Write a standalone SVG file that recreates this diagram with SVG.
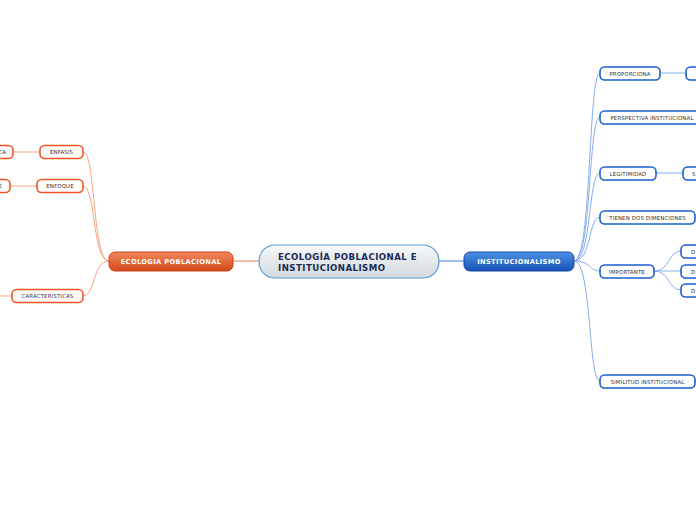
<svg xmlns="http://www.w3.org/2000/svg" width="696" height="520" viewBox="0 0 696 520">
<defs>
<linearGradient id="gc" x1="0" y1="0" x2="0" y2="1"><stop offset="0" stop-color="#f7f9fa"/><stop offset="1" stop-color="#d3d9de"/></linearGradient>
<linearGradient id="go" x1="0" y1="0" x2="0" y2="1"><stop offset="0" stop-color="#f2875a"/><stop offset="1" stop-color="#d2491c"/></linearGradient>
<linearGradient id="gb" x1="0" y1="0" x2="0" y2="1"><stop offset="0" stop-color="#4f92e4"/><stop offset="1" stop-color="#1652b8"/></linearGradient>
</defs>
<style>
.lo{fill:none;stroke:#f7a584;stroke-width:1}
.lb{fill:none;stroke:#86aef0;stroke-width:1}
.no{fill:#fff;stroke:#f05523;stroke-width:1.6}
.nb{fill:#fff;stroke:#1b5fd2;stroke-width:1.6}
.t{font-family:"DejaVu Sans",Verdana,sans-serif;font-size:5.4px;letter-spacing:0.15px;fill:#333;text-anchor:middle}
.tm{font-family:"DejaVu Sans",Verdana,sans-serif;font-size:6.7px;letter-spacing:0.35px;font-weight:bold;fill:#fff;text-anchor:middle}
.tc{font-family:"DejaVu Sans",Verdana,sans-serif;font-size:8.6px;letter-spacing:0.45px;font-weight:bold;fill:#1b2b55}
</style>
<rect width="696" height="520" fill="#fff"/>
<g id="connectors">
<line class="lo" x1="233" y1="261" x2="259" y2="261" style="stroke:#f07a50"/>
<line class="lb" x1="439" y1="261" x2="464" y2="261" style="stroke:#3f7fe0"/>
<path class="lo" d="M109,261 C92,261 96,152 83,152"/>
<path class="lo" d="M109,261 C92,261 96,186 83,186"/>
<path class="lo" d="M109,261 C92,261 96,296 83,296"/>
<line class="lo" x1="40" y1="152" x2="13" y2="152"/>
<line class="lo" x1="37" y1="186" x2="10" y2="186"/>
<line class="lo" x1="12" y1="296" x2="0" y2="296"/>
<path class="lb" d="M574,261 C592,261 588,73 600,73"/>
<path class="lb" d="M574,261 C592,261 588,117 600,117"/>
<path class="lb" d="M574,261 C592,261 588,173 600,173"/>
<path class="lb" d="M574,261 C592,261 588,217 600,217"/>
<path class="lb" d="M574,261 C592,261 588,271 600,271"/>
<path class="lb" d="M574,261 C592,261 588,381 600,381"/>
<line class="lb" x1="660" y1="73" x2="686" y2="73"/>
<line class="lb" x1="656" y1="173" x2="683" y2="173"/>
<path class="lb" d="M654,271 C670,271 668,251 681,251"/>
<line class="lb" x1="654" y1="271" x2="681" y2="271"/>
<path class="lb" d="M654,271 C670,271 668,290 681,290"/>
</g>
<g id="central"><rect x="259" y="245" width="180" height="33" rx="16" fill="url(#gc)" stroke="#5a9ad6" stroke-width="1.2"/>
<text class="tc" x="278" y="259.5">ECOLOGÍA POBLACIONAL E</text><text class="tc" x="278" y="270.5">INSTITUCIONALISMO</text></g>
<g id="ecologia"><rect x="109" y="252" width="124" height="19" rx="6" fill="url(#go)" stroke="#c8461c" stroke-width="1"/><text class="tm" x="171" y="263.8">ECOLOGIA POBLACIONAL</text></g>
<g id="institucionalismo"><rect x="464" y="252" width="110" height="19" rx="6" fill="url(#gb)" stroke="#1448a8" stroke-width="1"/><text class="tm" x="519" y="263.8">INSTITUCIONALISMO</text></g>
<g id="enfasis"><rect class="no" x="40" y="145.5" width="43" height="13" rx="4.5"/><text class="t" x="61.5" y="154">ÉNFASIS</text></g>
<g id="enfasis-leaf"><rect class="no" x="-40" y="145.5" width="53" height="13" rx="4.5"/><text class="t" x="6" y="154" style="text-anchor:end">CA</text></g>
<g id="enfoque"><rect class="no" x="37" y="179.5" width="46" height="13" rx="4.5"/><text class="t" x="60" y="188">ENFOQUE</text></g>
<g id="enfoque-leaf"><rect class="no" x="-40" y="179.5" width="50" height="13" rx="4.5"/><text class="t" x="2" y="188" style="text-anchor:end">E</text></g>
<g id="caracteristicas"><rect class="no" x="12" y="289.5" width="71" height="13" rx="4.5"/><text class="t" x="47.5" y="298">CARACTERISTICAS</text></g>
<g id="proporciona"><rect class="nb" x="600" y="67" width="60" height="13" rx="4.5"/><text class="t" x="630" y="75.5">PROPORCIONA</text></g>
<g id="proporciona-leaf"><rect class="nb" x="686" y="67" width="40" height="13" rx="4.5"/></g>
<g id="perspectiva"><rect class="nb" x="600" y="111" width="100" height="13" rx="4.5"/><text class="t" x="652" y="119.5">PERSPECTIVA INSTITUCIONAL</text></g>
<g id="legitimidad"><rect class="nb" x="600" y="167" width="56" height="13" rx="4.5"/><text class="t" x="628" y="175.5">LEGITIMIDAD</text></g>
<g id="legitimidad-leaf"><rect class="nb" x="683" y="167" width="40" height="13" rx="4.5"/><text class="t" x="692" y="175.5" style="text-anchor:start">S</text></g>
<g id="tienen"><rect class="nb" x="600" y="211" width="95" height="13" rx="4.5"/><text class="t" x="647.5" y="219.5">TIENEN DOS DIMENCIONES</text></g>
<g id="importante"><rect class="nb" x="600" y="265" width="54" height="13" rx="4.5"/><text class="t" x="627" y="273.5">IMPORTANTE</text></g>
<g id="imp-1"><rect class="nb" x="681" y="245" width="40" height="13" rx="4.5"/><text class="t" x="691" y="253.5" style="text-anchor:start">D</text></g>
<g id="imp-2"><rect class="nb" x="681" y="265" width="40" height="13" rx="4.5"/><text class="t" x="691" y="273.5" style="text-anchor:start">D</text></g>
<g id="imp-3"><rect class="nb" x="681" y="284" width="40" height="13" rx="4.5"/><text class="t" x="691" y="292.5" style="text-anchor:start">D</text></g>
<g id="similitud"><rect class="nb" x="600" y="375" width="95" height="13" rx="4.5"/><text class="t" x="647.5" y="383.5">SIMILITUD INSTITUCIONAL</text></g>
</svg>
